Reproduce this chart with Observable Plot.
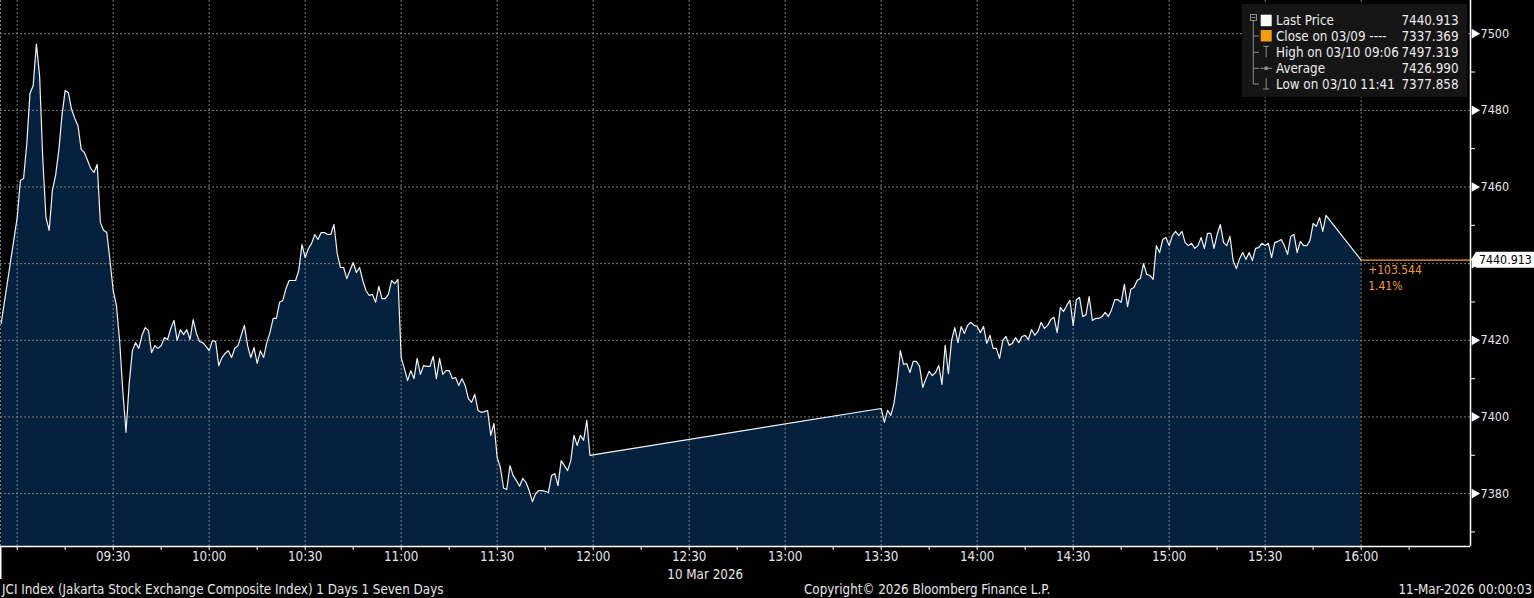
<!DOCTYPE html>
<html>
<head>
<meta charset="utf-8">
<script src="https://cdn.jsdelivr.net/npm/d3@7"></script>
<script src="https://cdn.jsdelivr.net/npm/@observablehq/plot@0.6"></script>
<style>
  html, body { margin: 0; padding: 0; background: #000; }
  #wrap { position: relative; width: 1534px; height: 598px; overflow: hidden; background: #000;
          font-family: "DejaVu Sans Condensed", "DejaVu Sans", sans-serif; color: #e6e6e6; }
  #chart { position: absolute; left: 0; top: 0; }
  #legend { position: absolute; left: 1242px; top: 4px; width: 225px; height: 93px; background: #151515; }
  .foot { position: absolute; top: 582px; font-size: 13.3px; line-height: 16px; white-space: nowrap; color: #e6e6e6; }
</style>
</head>
<body>
<div id="wrap">
  <div id="chart"></div>
  <div id="legend"></div>
  <div class="foot" id="footLeft" style="left:2px;"></div>
  <div class="foot" id="footMid" style="left:804px;"></div>
  <div class="foot" id="footRight" style="right:2px;"></div>
</div>
<script>
// ---------------- data ----------------
const sessionDay = "2026-03-10";
const dateLabel = "10 Mar 2026";

const preOpenTime = "08:55";
const preOpenValue = 7424.4;

// 1-minute values from 09:00
const morningStart = "09:00";
const morningValues = [
  7452.0, 7461.7, 7462.2, 7471.3, 7484.4, 7486.5, 7497.3, 7489.0, 7467.2, 7452.0,
  7448.7, 7459.1, 7463.0, 7469.5, 7478.7, 7485.2, 7484.6, 7480.2, 7477.9, 7476.0,
  7469.8, 7469.0, 7466.9, 7464.8, 7463.8, 7465.9, 7450.7, 7448.7, 7448.1, 7440.8,
  7433.0, 7429.1, 7420.0, 7406.9, 7396.0, 7408.7, 7417.3, 7419.4, 7417.9, 7421.3,
  7423.3, 7422.6, 7416.8, 7418.6, 7417.9, 7418.6, 7420.7, 7420.2, 7423.1, 7425.2,
  7420.0, 7422.8, 7421.5, 7422.8, 7420.2, 7425.4, 7421.8, 7419.7, 7419.4, 7418.4,
  7417.3, 7419.9, 7419.7, 7413.4, 7415.5, 7416.6, 7417.3, 7415.5, 7417.9, 7418.6,
  7421.3, 7423.9, 7418.6, 7415.5, 7418.1, 7414.0, 7417.3, 7415.5, 7419.4, 7422.0,
  7425.7, 7425.7, 7429.9, 7430.4, 7433.5, 7435.6, 7435.6, 7435.6, 7438.2, 7445.0,
  7441.6, 7443.9, 7445.3, 7447.6, 7446.3, 7448.1, 7448.1, 7447.6, 7447.6, 7450.2,
  7442.7, 7439.0, 7439.0, 7436.1, 7438.2, 7440.3, 7437.7, 7439.0, 7435.6, 7433.0,
  7431.7, 7432.0, 7429.9, 7434.1, 7430.9, 7430.9, 7432.0, 7435.6, 7434.8, 7435.9,
  7415.5, 7412.6, 7409.5, 7412.1, 7410.0, 7415.3, 7411.1, 7413.4, 7413.2, 7413.2,
  7415.8, 7410.0, 7415.3, 7411.1, 7412.1, 7412.1, 7410.0, 7410.3, 7408.2, 7410.0,
  7408.2, 7404.8, 7403.8, 7405.9, 7401.7, 7401.2, 7401.4, 7401.7, 7395.2, 7398.3,
  7389.4, 7386.8, 7381.4, 7381.1, 7387.3, 7384.7, 7383.4, 7381.9, 7384.0, 7382.9,
  7380.8, 7377.9, 7380.0, 7380.8, 7380.8, 7380.6, 7380.3, 7384.7, 7385.2, 7382.1,
  7388.6, 7387.3, 7386.0, 7388.6, 7395.2, 7392.6, 7395.2, 7393.9, 7399.1, 7390.0
];

// 1-minute values from 13:30
const afternoonStart = "13:30";
const afternoonValues = [
  7402.2, 7398.6, 7401.7, 7400.4, 7403.5, 7409.5, 7417.3, 7413.7, 7413.9, 7411.6,
  7414.5, 7414.5, 7413.2, 7407.7, 7410.0, 7411.9, 7410.8, 7411.6, 7413.4, 7408.5,
  7418.7, 7411.3, 7420.0, 7423.3, 7419.4, 7423.6, 7421.8, 7423.9, 7424.7, 7423.9,
  7423.6, 7422.0, 7423.6, 7419.2, 7421.3, 7417.9, 7417.9, 7415.3, 7420.0, 7421.0,
  7418.7, 7419.2, 7420.7, 7419.4, 7421.0, 7421.3, 7420.2, 7422.8, 7421.3, 7422.3,
  7424.7, 7423.1, 7423.9, 7425.4, 7426.0, 7422.0, 7428.6, 7427.5, 7429.1, 7430.4,
  7423.9, 7430.6, 7431.2, 7426.2, 7426.7, 7431.4, 7425.2, 7425.7, 7425.7, 7426.2,
  7427.3, 7426.2, 7428.0, 7430.6, 7430.6, 7429.9, 7434.6, 7428.8, 7433.3, 7433.8,
  7435.6, 7436.1, 7440.0, 7437.2, 7436.9, 7435.9, 7444.7, 7442.9, 7446.3, 7446.8,
  7444.7, 7447.3, 7448.4, 7447.3, 7448.4, 7445.5, 7444.7, 7445.3, 7444.0, 7444.7,
  7446.8, 7444.0, 7447.9, 7447.9, 7444.0, 7447.6, 7450.2, 7445.5, 7444.7, 7447.1,
  7440.8, 7438.7, 7441.3, 7442.9, 7441.1, 7442.9, 7440.8, 7444.0, 7444.2, 7445.3,
  7444.7, 7445.3, 7441.6, 7445.5, 7445.8, 7446.3, 7444.7, 7442.4, 7447.1, 7447.6,
  7442.9, 7445.8, 7444.7, 7444.7, 7446.0, 7450.5, 7449.7, 7452.0, 7448.4, 7452.6
];

const closeTime = "16:00";
const closeValue = 7440.913;
const prevCloseValue = 7337.369;

const xDomainTimes = ["08:54:47", "16:34:10"];
const yDomain = [7366.2, 7508.66];
const yLabelTicks = [7380, 7400, 7420, 7440, 7460, 7480, 7500];
const yMinorTicks = [7370, 7390, 7410, 7430, 7450, 7470, 7490];
const xLabelTicks = ["09:30","10:00","10:30","11:00","11:30","12:00","12:30","13:00","13:30","14:00","14:30","15:00","15:30","16:00"];
const xGridTicks = ["09:00","09:30","10:00","10:30","11:00","11:30","12:00","12:30","13:00","13:30","14:00","14:30","15:00","15:30","16:00"];
const xTickMarks = ["09:00","09:15","09:30","09:45","10:00","10:15","10:30","10:45","11:00","11:15","11:30","11:45","12:00","12:15","12:30","12:45","13:00","13:15","13:30","13:45","14:00","14:15","14:30","14:45","15:00","15:15","15:30","15:45","16:00","16:15"];
const dateLabelTime = "12:30";

const legendLabels = ["Last Price", "Close on 03/09 ----", "High on 03/10 09:06", "Average", "Low on 03/10 11:41"];
const legendValues = ["7440.913", "7337.369", "7497.319", "7426.990", "7377.858"];
const legendIcons = ["square-white", "square-orange", "high", "average", "low"];

const footerLeft = "JCI Index (Jakarta Stock Exchange Composite Index) 1 Days 1 Seven Days";
const footerMid = "Copyright\u00A9 2026 Bloomberg Finance L.P.";
const footerRight = "11-Mar-2026 00:00:03";

// ---------------- build ----------------
const parseHM = s => {
  const p = s.split(":").map(Number);
  const [Y, M, D] = sessionDay.split("-").map(Number);
  return new Date(Y, M - 1, D, p[0], p[1], p[2] || 0);
};
const addMin = (d, m) => new Date(d.getTime() + m * 60000);

const series = [];
series.push({date: parseHM(preOpenTime), value: preOpenValue});
morningValues.forEach((v, i) => series.push({date: addMin(parseHM(morningStart), i), value: v}));
afternoonValues.forEach((v, i) => series.push({date: addMin(parseHM(afternoonStart), i), value: v}));
series.push({date: parseHM(closeTime), value: closeValue});

const xDomain = xDomainTimes.map(parseHM);
const lastPoint = series[series.length - 1];
const change = closeValue - prevCloseValue;
const changePct = change / prevCloseValue * 100;
const changeText = (change >= 0 ? "+" : "") + change.toFixed(3) + "\n" + changePct.toFixed(2) + "%";
// y labels hidden under the last-price tag are not drawn
const yShownLabels = yLabelTicks.filter(t => Math.abs(t - closeValue) > 3);

const AREA = "#03203d", LINE = "#f2f2f2", GRID = "#8a8a8a", ORANGE = "#ef9f33", TXT = "#e6e6e6";
const FONT = "'DejaVu Sans Condensed', 'DejaVu Sans', sans-serif";
const fmtHM = d3.timeFormat("%H:%M");

const chart = Plot.plot({
  width: 1534,
  height: 598,
  marginLeft: 0,
  marginRight: 64,
  marginTop: 0,
  marginBottom: 52,
  style: {background: "#000", color: TXT, fontFamily: FONT, fontSize: "12px"},
  x: {type: "time", domain: xDomain},
  y: {domain: yDomain},
  marks: [
    Plot.areaY(series, {x: "date", y1: yDomain[0], y2: "value", fill: AREA}),
    Plot.gridX(xGridTicks.map(parseHM), {stroke: GRID, strokeOpacity: 0.9, strokeDasharray: "2,2"}),
    Plot.ruleX([xDomain[0]], {stroke: GRID, strokeOpacity: 0.9, strokeDasharray: "2,2"}),
    Plot.gridY(yLabelTicks, {stroke: GRID, strokeOpacity: 0.9, strokeDasharray: "2,2"}),
    Plot.lineY(series, {x: "date", y: "value", stroke: LINE, strokeWidth: 1.2}),
    Plot.ruleY([closeValue], {x1: lastPoint.date, x2: xDomain[1], stroke: ORANGE, strokeWidth: 1.2}),
    Plot.text([lastPoint], {x: "date", y: "value", text: () => changeText, dx: 7, dy: 3, lineAnchor: "top", lineHeight: 1.3, textAnchor: "start", fill: ORANGE, fontSize: 12}),
    // axis lines
    Plot.ruleY([yDomain[0]], {stroke: "#fff", strokeWidth: 1.5}),
    Plot.ruleX([xDomain[1]], {stroke: "#fff", strokeWidth: 1.5}),
    // x axis
    Plot.axisX({ticks: xTickMarks.map(parseHM), tickSize: 4, tickFormat: () => "", label: null, stroke: "#fff"}),
    Plot.axisX({ticks: xLabelTicks.map(parseHM), tickSize: 0, tickPadding: 5, tickFormat: fmtHM, label: null, fontSize: 13.3, fill: TXT}),
    Plot.text([dateLabel], {x: parseHM(dateLabelTime), y: yDomain[0], dx: 16, dy: 28, fill: TXT, fontSize: 13.3}),
    // y axis (right)
    Plot.axisY({anchor: "right", ticks: yMinorTicks, tickSize: 4, tickFormat: () => "", label: null, stroke: "#fff"}),
    Plot.dot(yLabelTicks, {x: xDomain[1], y: d => d, symbol: "triangle", rotate: 90, r: 3.6, fill: "#fff", stroke: null, dx: 4}),
    Plot.axisY({anchor: "right", ticks: yShownLabels, tickSize: 0, tickPadding: 10, tickFormat: d => String(d), label: null, fontSize: 12.5, fill: TXT})
  ]
});
document.getElementById("chart").appendChild(chart);

// last-price tag on the right axis, positioned with the plot's scales
const sx = chart.scale("x"), sy = chart.scale("y");
const tagY = sy.apply(closeValue);
const axisX = sx.apply(xDomain[1]);
const svg = d3.select(chart);
const tag = svg.append("g");
tag.append("path")
  .attr("d", `M${axisX + 1},${tagY} L${axisX + 6},${tagY - 8} L1534,${tagY - 8} L1534,${tagY + 8} L${axisX + 6},${tagY + 8} Z`)
  .attr("fill", "#fff");
tag.append("text")
  .attr("x", axisX + 9).attr("y", tagY).attr("dy", "0.36em")
  .attr("text-anchor", "start")
  .attr("fill", "#000").attr("font-size", 12.3).attr("font-family", FONT)
  .text(closeValue.toFixed(3));
// start-of-day separator below the x axis
const x0 = sx.apply(xDomain[0]);
const yb = sy.apply(yDomain[0]);
svg.append("line").attr("x1", x0 + 0.75).attr("x2", x0 + 0.75).attr("y1", yb).attr("y2", yb + 33)
  .attr("stroke", "#fff").attr("stroke-width", 1.5);

// ---------------- legend ----------------
const lg = d3.select("#legend").append("svg").attr("width", 225).attr("height", 93)
  .style("font-family", FONT);
const rowY = [16.7, 32, 48.3, 64.3, 80];
const treeX = 11.3, iconX = 24.2;
const ICON_GRAY = "#8c8c8c";
// tree
lg.append("rect").attr("x", 8.5).attr("y", 10.5).attr("width", 6).attr("height", 6).attr("fill", "none").attr("stroke", ICON_GRAY);
lg.append("line").attr("x1", 9.5).attr("x2", 13.5).attr("y1", 13.5).attr("y2", 13.5).attr("stroke", ICON_GRAY);
lg.append("line").attr("x1", treeX).attr("x2", treeX).attr("y1", 17).attr("y2", rowY[4]).attr("stroke", ICON_GRAY);
rowY.slice(1).forEach(y => lg.append("line").attr("x1", treeX).attr("x2", 17).attr("y1", y).attr("y2", y).attr("stroke", ICON_GRAY));
legendIcons.forEach((icon, i) => {
  const y = rowY[i];
  if (icon === "square-white" || icon === "square-orange") {
    lg.append("rect").attr("x", iconX - 5.5).attr("y", y - 6).attr("width", 11).attr("height", 11.5)
      .attr("fill", icon === "square-white" ? "#fff" : "#f39c12");
  } else if (icon === "high") {
    lg.append("line").attr("x1", iconX - 3).attr("x2", iconX + 3).attr("y1", y - 6).attr("y2", y - 6).attr("stroke", ICON_GRAY);
    lg.append("line").attr("x1", iconX).attr("x2", iconX).attr("y1", y - 6).attr("y2", y + 5).attr("stroke", ICON_GRAY);
  } else if (icon === "average") {
    lg.append("line").attr("x1", iconX - 6).attr("x2", iconX + 6).attr("y1", y).attr("y2", y).attr("stroke", ICON_GRAY);
    lg.append("circle").attr("cx", iconX).attr("cy", y).attr("r", 2).attr("fill", ICON_GRAY);
  } else if (icon === "low") {
    lg.append("line").attr("x1", iconX).attr("x2", iconX).attr("y1", y - 6).attr("y2", y + 5).attr("stroke", ICON_GRAY);
    lg.append("line").attr("x1", iconX - 3).attr("x2", iconX + 3).attr("y1", y + 5).attr("y2", y + 5).attr("stroke", ICON_GRAY);
  }
  lg.append("text").attr("x", 34).attr("y", y).attr("dy", "0.36em").attr("font-size", 13.3).attr("fill", "#ececec").text(legendLabels[i]);
  lg.append("text").attr("x", 216.5).attr("y", y).attr("dy", "0.36em").attr("font-size", 13.3).attr("fill", "#ececec")
    .attr("text-anchor", "end").text(legendValues[i]);
});

// ---------------- footer ----------------
document.getElementById("footLeft").textContent = footerLeft;
document.getElementById("footMid").textContent = footerMid;
document.getElementById("footRight").textContent = footerRight;
</script>
</body>
</html>
